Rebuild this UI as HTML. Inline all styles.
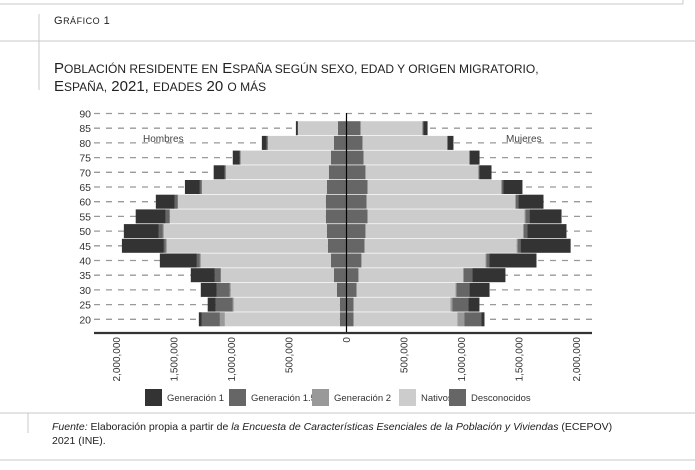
<!DOCTYPE html>
<html><head><meta charset="utf-8">
<style>
body{margin:0;background:#fff;width:695px;height:465px;overflow:hidden;font-family:"Liberation Sans",sans-serif;}
svg text{font-family:"Liberation Sans",sans-serif;}
</style></head>
<body>
<svg width="695" height="465" viewBox="0 0 695 465" xmlns="http://www.w3.org/2000/svg">
<line x1="0" y1="4" x2="683" y2="4" stroke="#c8c8c8"/>
<line x1="683" y1="0" x2="683" y2="4" stroke="#c8c8c8"/>
<line x1="39" y1="14" x2="39" y2="90" stroke="#c8c8c8"/>
<line x1="0" y1="41" x2="695" y2="41" stroke="#c8c8c8"/>
<text x="54" y="24" font-size="11" fill="#222" letter-spacing="0.5">G<tspan font-size="9">RÁFICO</tspan> 1</text>
<text x="54" y="73" font-size="15" fill="#222">P<tspan font-size="12">OBLACIÓN RESIDENTE EN</tspan> E<tspan font-size="12">SPAÑA SEGÚN SEXO, EDAD Y ORIGEN MIGRATORIO,</tspan></text>
<text x="54" y="91" font-size="15" fill="#222">E<tspan font-size="12">SPAÑA,</tspan> 2021, <tspan font-size="12">EDADES</tspan> 20 <tspan font-size="12">O MÁS</tspan></text>
<g id="chart"></g>
<line x1="0" y1="413" x2="695" y2="413" stroke="#c8c8c8"/>
<line x1="28" y1="413" x2="28" y2="433" stroke="#c8c8c8"/>
<line x1="0" y1="460" x2="695" y2="460" stroke="#c8c8c8"/>
<text x="52" y="430" font-size="10.5" fill="#222"><tspan font-style="italic">Fuente:</tspan> Elaboración propia a partir de <tspan font-style="italic">la Encuesta de Características Esenciales de la Población y Viviendas</tspan> (ECEPOV)</text>
<text x="52" y="444" font-size="10.5" fill="#222">2021 (INE).</text>
</svg>
<script>
const ages=[85,80,75,70,65,60,55,50,45,40,35,30,25,20];
const allAges=[90,85,80,75,70,65,60,55,50,45,40,35,30,25,20];
const seriesNames=["Desconocidos","Nativos","Generación 2","Generación 1.5","Generación 1"];
const menDesc=[75,110,136,154,171,180,180,171,162,136,110,84,58,58];
const menNat=[348,574,786,896,1087,1287,1357,1417,1400,1130,983,922,922,1000];
const menGen2=[0,0,0,0,0,0,0,9,9,9,0,9,9,43];
const menGen15=[0,12,6,9,17,26,35,35,17,26,52,113,148,157];
const menGen1=[17,40,61,96,130,165,261,304,365,322,209,139,70,26];
const womDesc=[122,139,148,165,183,174,183,165,157,130,104,87,61,61];
const womNat=[539,739,922,983,1165,1296,1365,1374,1322,1078,913,861,843,904];
const womGen2=[0,0,0,0,0,0,9,0,9,9,0,9,17,61];
const womGen15=[9,0,0,9,17,26,35,35,26,26,78,113,139,148];
const womGen1=[35,52,87,104,165,217,278,339,435,409,287,174,96,26];
const xTicks=[-2000000,-1500000,-1000000,-500000,0,500000,1000000,1500000,2000000];
const xTickLabels=["2,000,000","1,500,000","1,000,000","500,000","0","500,000","1,000,000","1,500,000","2,000,000"];
const colors=["#666666","#cccccc","#999999","#666666","#333333"];

const NS="http://www.w3.org/2000/svg";
const g=document.getElementById("chart");
const cx=346.5, pxPerK=57.5/500;
function xScale(thousands){return cx+thousands*pxPerK;}
function yScale(age){return 113.5+(90-age)/5*14.7;}
function mk(tag,attrs){const e=document.createElementNS(NS,tag);for(const k in attrs)e.setAttribute(k,attrs[k]);g.appendChild(e);return e;}

// grid dashes and age labels
allAges.forEach(a=>{
  const y=yScale(a);
  const l=mk("line",{x1:94,y1:y,x2:592,y2:y,stroke:"#999","stroke-width":1.3,"stroke-dasharray":"6 6"});
  
  
  const t=mk("text",{x:91,y:y+4,"font-size":10.5,fill:"#333","text-anchor":"end"});
  t.textContent=a;
  
  
});
const menSeries=[menDesc,menNat,menGen2,menGen15,menGen1];
const womSeries=[womDesc,womNat,womGen2,womGen15,womGen1];
ages.forEach((a,i)=>{
  const y=yScale(a)-7, h=14;
  [[menSeries,-1,'men'],[womSeries,1,'women']].forEach(([S,dir,side])=>{
    // white background to hide dashes
    let cum=0;
    S.forEach((arr,si)=>{
      const v=arr[i]; if(v<=0){return;}
      const x0=xScale(dir*cum), x1=xScale(dir*(cum+v));
      const r=mk("rect",{x:Math.min(x0,x1),y:y,width:Math.abs(x1-x0),height:h,fill:colors[si]});
      
      
      cum+=v;
    });
  });
  const sep=mk("line",{x1:xScale(-2000),y1:y+h+0.4,x2:xScale(2000),y2:y+h+0.4,stroke:"#fff","stroke-width":0.8,"stroke-opacity":0});
  
  
});
const c=mk("line",{x1:cx,y1:113,x2:cx,y2:333,stroke:"#000","stroke-width":1.2});


const ax=mk("line",{x1:94,y1:333,x2:592,y2:333,stroke:"#333","stroke-width":2.2});


xTicks.forEach((v,i)=>{
  const x=xScale(v/1000);
  const t=mk("text",{x:0,y:0,"font-size":10,fill:"#333","text-anchor":"end",transform:"translate("+(x+3.5)+",337) rotate(-90)"});
  t.textContent=xTickLabels[i];
  
  
});
const hl=mk("text",{x:143,y:142,"font-size":10,fill:"#444"});hl.textContent="Hombres";


const ml=mk("text",{x:506,y:142,"font-size":10,fill:"#444"});ml.textContent="Mujeres";


// legend
const legendItems=[["Generación 1","#333333",145],["Generación 1.5","#666666",229],["Generación 2","#999999",312],["Nativos","#cccccc",399],["Desconocidos","#666666",449]];
legendItems.forEach(([name,col,x])=>{
  const r=mk("rect",{x:x,y:389,width:17,height:17,fill:col});
  
  
  const t=mk("text",{x:x+22,y:401,"font-size":9.5,fill:"#333"});t.textContent=name;
  
  
});
</script>
</body></html>
